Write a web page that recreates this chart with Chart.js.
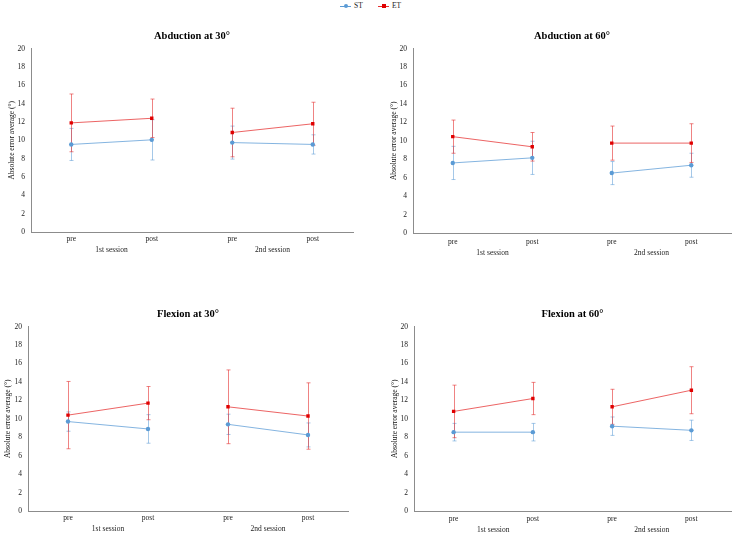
<!DOCTYPE html>
<html>
<head>
<meta charset="utf-8">
<script src="https://cdn.jsdelivr.net/npm/chart.js@4.4.1/dist/chart.umd.min.js"></script>
<style>
  body { margin: 0; background: #fff; width: 735px; height: 538px; position: relative; overflow: hidden; }
  .panel { position: absolute; }
  .legend { position: absolute; top: 0; left: 336px; font: 7.5px "Liberation Serif", serif; color: #222; }
  .legend span.item { position: absolute; top: 1px; white-space: nowrap; }
  .legend i { position: absolute; top: 5px; height: 1px; width: 11px; }
  .legend b { position: absolute; top: 3px; width: 4px; height: 4px; }
</style>
</head>
<body>
<div class="legend">
  <span class="item" style="left:4px"><i style="left:0;background:#5b9bd5"></i><b style="left:3.5px;background:#5b9bd5;border-radius:50%"></b><span style="position:absolute;left:14px;top:0">ST</span></span>
  <span class="item" style="left:42px"><i style="left:0;background:#e53030"></i><b style="left:3.5px;background:#e00000"></b><span style="position:absolute;left:14px;top:0">ET</span></span>
</div>
<div class="panel" style="left:0;top:20px;width:367px;height:245px"><canvas id="abd30"></canvas></div>
<div class="panel" style="left:367px;top:20px;width:368px;height:245px"><canvas id="abd60"></canvas></div>
<div class="panel" style="left:0;top:298px;width:367px;height:240px"><canvas id="flx30"></canvas></div>
<div class="panel" style="left:367px;top:298px;width:368px;height:240px"><canvas id="flx60"></canvas></div>
<script>
// categories
const phases = ['pre', 'post', 'pre', 'post'];
const sessions = ['1st session', '2nd session'];
const seriesNames = ['ST', 'ET'];
const titles = ['Abduction at 30°', 'Abduction at 60°', 'Flexion at 30°', 'Flexion at 60°'];

// means and error bar half-widths (°)
const abd30ST = [9.55, 10.05, 9.75, 9.55];
const abd30STerr = [1.75, 2.2, 1.8, 1.05];
const abd30ET = [11.9, 12.4, 10.85, 11.8];
const abd30ETerr = [3.15, 2.1, 2.65, 2.35];

const abd60ST = [7.6, 8.15, 6.5, 7.35];
const abd60STerr = [1.8, 1.8, 1.25, 1.3];
const abd60ET = [10.45, 9.35, 9.75, 9.75];
const abd60ETerr = [1.8, 1.55, 1.85, 2.1];

const flx30ST = [9.7, 8.9, 9.4, 8.25];
const flx30STerr = [1.05, 1.55, 1.1, 1.3];
const flx30ET = [10.4, 11.7, 11.3, 10.3];
const flx30ETerr = [3.65, 1.8, 4.0, 3.6];

const flx60ST = [8.55, 8.55, 9.2, 8.75];
const flx60STerr = [0.95, 0.95, 1.0, 1.1];
const flx60ET = [10.8, 12.2, 11.3, 13.1];
const flx60ETerr = [2.85, 1.75, 1.9, 2.55];

const yMin = 0, yMax = 20, yStep = 2;

const serif = '"Liberation Serif", "Times New Roman", serif';
const blue = '#5b9bd5', blueLine = 'rgba(91,155,213,0.75)', blueErr = 'rgba(91,155,213,0.55)';
const red = '#e00000', redLine = 'rgba(229,48,48,0.75)', redErr = 'rgba(229,48,48,0.6)';

// error bars drawn from the y scale
const errorBars = {
  id: 'errorBars',
  beforeDatasetsDraw(chart) {
    const ctx = chart.ctx;
    const y = chart.scales.y;
    chart.data.datasets.forEach((ds, i) => {
      const meta = chart.getDatasetMeta(i);
      ctx.save();
      ctx.strokeStyle = ds.errColor;
      ctx.lineWidth = 1;
      meta.data.forEach((pt, j) => {
        const v = ds.data[j], e = ds.err[j];
        const x = Math.round(pt.x) + 0.5;
        const top = y.getPixelForValue(v + e), bot = y.getPixelForValue(v - e);
        ctx.beginPath();
        ctx.moveTo(x, top); ctx.lineTo(x, bot);
        ctx.moveTo(x - 2, top); ctx.lineTo(x + 2, top);
        ctx.moveTo(x - 2, bot); ctx.lineTo(x + 2, bot);
        ctx.stroke();
      });
      ctx.restore();
    });
  }
};

function series(label, data, err, color, lineColor, errColor, style) {
  return {
    label: label,
    data: data,
    err: err,
    errColor: errColor,
    borderColor: lineColor,
    backgroundColor: color,
    borderWidth: 1,
    pointStyle: style,
    pointRadius: style === 'rect' ? 2.4 : 2.2,
    pointBorderWidth: 0,
    pointBackgroundColor: color,
    tension: 0,
    segment: {
      borderColor: ctx => ctx.p0DataIndex === 1 ? 'transparent' : lineColor
    }
  };
}

function makePanel(id, title, st, stErr, et, etErr, lay) {
  new Chart(document.getElementById(id), {
    type: 'line',
    data: {
      labels: phases,
      datasets: [
        series(seriesNames[0], st, stErr, blue, blueLine, blueErr, 'circle'),
        series(seriesNames[1], et, etErr, red, redLine, redErr, 'rect')
      ]
    },
    options: {
      responsive: true,
      maintainAspectRatio: false,
      animation: false,
      events: [],
      layout: { padding: { left: lay.left, right: lay.right, top: 0, bottom: lay.bottom } },
      plugins: {
        legend: { display: false },
        tooltip: { enabled: false },
        title: {
          display: true,
          text: title,
          fullSize: false,
          color: '#000',
          font: { family: serif, size: 10.5, weight: 'bold' },
          padding: { top: 10, bottom: 6 }
        }
      },
      scales: {
        x: {
          type: 'category',
          offset: true,
          grid: { display: false, drawTicks: false },
          border: { display: true, color: '#8c8c8c', width: 1 },
          ticks: { color: '#222', font: { family: serif, size: 7.5 }, padding: lay.xPad, autoSkip: false, maxRotation: 0 },
          afterFit: s => { s.height = lay.xh; }
        },
        x2: {
          type: 'category',
          position: 'bottom',
          labels: sessions,
          offset: true,
          grid: { display: false, drawTicks: false },
          border: { display: false },
          ticks: { color: '#222', font: { family: serif, size: 7.5 }, padding: 2, maxRotation: 0 },
          afterFit: s => { s.height = 14; }
        },
        y: {
          min: yMin,
          max: yMax,
          grid: { display: false, drawTicks: false },
          border: { display: true, color: '#8c8c8c', width: 1 },
          ticks: { stepSize: yStep, color: '#222', font: { family: serif, size: 7.5 }, padding: 6 },
          title: {
            display: true,
            text: 'Absolute error average (°)',
            color: '#111',
            font: { family: serif, size: 7.5 },
            padding: { top: lay.titlePad, bottom: 0 }
          },
          afterFit: s => { s.width = lay.yw; }
        }
      }
    },
    plugins: [errorBars]
  });
}

makePanel('abd30', titles[0], abd30ST, abd30STerr, abd30ET, abd30ETerr,
  { left: 0, right: 14, bottom: 7, yw: 31, xh: 12, xPad: 3, titlePad: 8 });
makePanel('abd60', titles[1], abd60ST, abd60STerr, abd60ET, abd60ETerr,
  { left: 15, right: 1, bottom: 4, yw: 31, xh: 14, xPad: 5, titlePad: 8 });
makePanel('flx30', titles[2], flx30ST, flx30STerr, flx30ET, flx30ETerr,
  { left: 0, right: 19, bottom: 1, yw: 28, xh: 12, xPad: 3, titlePad: 4 });
makePanel('flx60', titles[3], flx60ST, flx60STerr, flx60ET, flx60ETerr,
  { left: 16, right: 4, bottom: 0, yw: 31, xh: 13, xPad: 4, titlePad: 8 });
</script>
</body>
</html>
